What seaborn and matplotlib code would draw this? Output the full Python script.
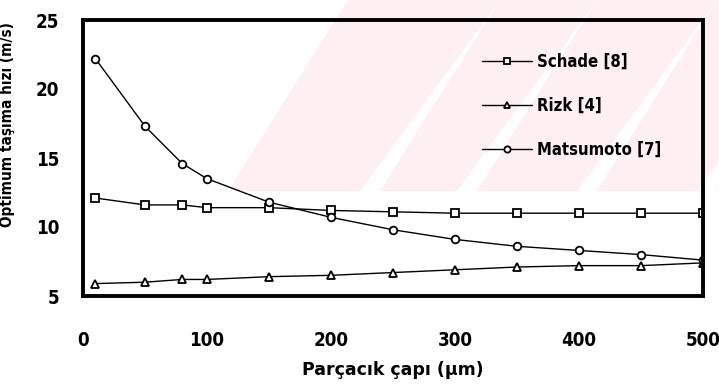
import matplotlib
matplotlib.use("Agg")
import matplotlib.pyplot as plt
import seaborn as sns
import pandas as pd
from matplotlib.patches import Polygon

# particle diameter (µm)
cap = [10, 50, 80, 100, 150, 200, 250, 300, 350, 400, 450, 500]

schade = [12.1, 11.6, 11.6, 11.4, 11.4, 11.2, 11.1, 11.0, 11.0, 11.0, 11.0, 11.0]
rizk = [5.9, 6.0, 6.2, 6.2, 6.4, 6.5, 6.7, 6.9, 7.1, 7.2, 7.2, 7.4]
matsumoto = [22.2, 17.3, 14.6, 13.5, 11.8, 10.7, 9.8, 9.1, 8.6, 8.3, 8.0, 7.6]

series_names = ["Schade [8]", "Rizk [4]", "Matsumoto [7]"]
series_markers = ["s", "^", "o"]

x_ticks = [0, 100, 200, 300, 400, 500]
y_ticks = [5, 10, 15, 20, 25]

df = pd.DataFrame({
    "cap": cap * 3,
    "hiz": schade + rizk + matsumoto,
    "seri": [n for n in series_names for _ in cap],
})

sns.set_style("white")
plt.rcParams["font.family"] = ["DejaVu Sans"]
plt.rcParams["text.color"] = "black"
plt.rcParams["xtick.color"] = "black"
plt.rcParams["ytick.color"] = "black"
plt.rcParams["axes.labelcolor"] = "black"

narrow = dict(family="DejaVu Sans", stretch="condensed", weight="bold")

fig = plt.figure(figsize=(7.19, 3.89), dpi=100)

# faint pink watermark in the background
bg = fig.add_axes([0, 0, 1, 1], zorder=-5)
bg.set_xlim(0, 719)
bg.set_ylim(389, 0)
bg.axis("off")
pink = "#fdeff2"
bands = [(228, 360), (380, 457), (477, 577), (597, 697), (717, 800)]
for x0, x1 in bands:
    bg.add_patch(Polygon([(x0, 191), (x1, 191), (x1 + 140, 0), (x0 + 120, 0)],
                         closed=True, facecolor=pink, edgecolor="none"))

ax = fig.add_axes([83 / 719, 1 - 296 / 389, 620 / 719, 276 / 389])
ax.set_facecolor("none")

sns.lineplot(data=df, x="cap", y="hiz", hue="seri", style="seri",
             palette=["black"] * 3, markers=series_markers, dashes=False,
             markersize=5.5, markerfacecolor="white", markeredgecolor="black",
             markeredgewidth=1.3, linewidth=1.0, ax=ax)

ax.set_xlim(0, 500)
ax.set_ylim(5, 25)
ax.set_xticks(x_ticks)
ax.set_yticks(y_ticks)
ax.tick_params(axis="x", length=0, pad=25)
ax.tick_params(axis="y", length=0, pad=17)
for lab in ax.get_xticklabels():
    lab.set(fontsize=13.5, **narrow)
for lab in ax.get_yticklabels():
    lab.set(fontsize=13.5, **narrow)

for sp in ax.spines.values():
    sp.set_visible(True)
    sp.set_color("black")
    sp.set_linewidth(2.8)

ax.set_xlabel("Parçacık çapı (µm)", fontsize=12.5, family="DejaVu Sans", weight="bold")
ax.set_ylabel("Optimum taşıma hızı (m/s)", fontsize=11, **narrow)
ax.xaxis.set_label_coords(0.5, -0.235)
ax.yaxis.set_label_coords(-0.11, 0.62)

handles, labels = ax.get_legend_handles_labels()
for h in handles:
    h.set_markersize(4.5)
    h.set_markerfacecolor("white")
    h.set_markeredgecolor("black")
    h.set_linewidth(1.0)
ax.legend(handles, labels, loc="upper left", bbox_to_anchor=(0.62, 0.935),
          frameon=False, labelspacing=1.55, handlelength=3.0,
          handletextpad=0.3, prop=dict(size=12, **narrow))

fig.savefig("out.png", dpi=100)
